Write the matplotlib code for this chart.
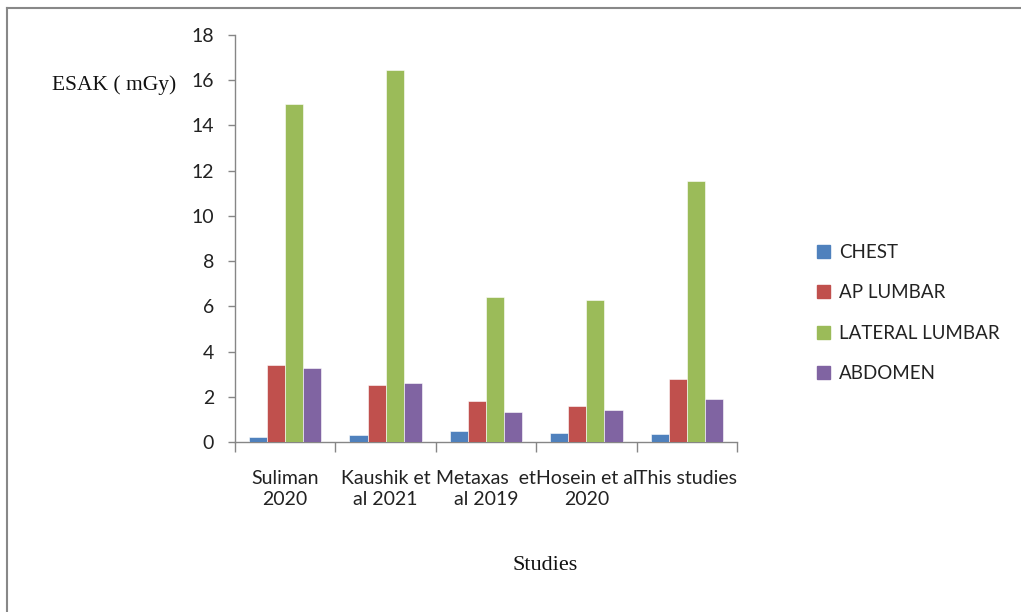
import matplotlib
matplotlib.use("Agg")
import matplotlib.pyplot as plt
import numpy as np
from matplotlib.patches import Rectangle
from matplotlib.lines import Line2D

categories = ["Suliman\n2020", "Kaushik et\nal 2021", "Metaxas  et\nal 2019", "Hosein et al\n2020", "This studies"]
series_names = ["CHEST", "AP LUMBAR", "LATERAL LUMBAR", "ABDOMEN"]
chest = [0.22, 0.30, 0.49, 0.40, 0.34]
ap_lumbar = [3.39, 2.51, 1.83, 1.59, 2.79]
lateral_lumbar = [14.93, 16.47, 6.40, 6.30, 11.56]
abdomen = [3.29, 2.61, 1.31, 1.42, 1.92]
colors = ["#4F81BD", "#C0504D", "#9BBB59", "#8064A2"]
yticks = [0, 2, 4, 6, 8, 10, 12, 14, 16, 18]

font_sans = ["Lato", "DejaVu Sans"]
font_serif = ["Liberation Serif", "DejaVu Serif"]

fig = plt.figure(figsize=(10.21, 6.12), dpi=100)
ax = fig.add_axes([235/1021, 1-442/612, (737-235)/1021, (442-35)/612])

x = np.arange(len(categories))
w = 0.18
data = [chest, ap_lumbar, lateral_lumbar, abdomen]
for i, (vals, c, name) in enumerate(zip(data, colors, series_names)):
    ax.bar(x + (i - 1.5) * w, vals, width=w, color=c, edgecolor="white", linewidth=0.4, label=name, zorder=3)

ax.set_xlim(-0.5, len(categories) - 0.5)
ax.set_ylim(0, 18)
ax.set_yticks(yticks)
ax.set_yticklabels([str(v) for v in yticks], fontsize=14, family=font_sans, color="#222222")
ax.set_xticks(np.arange(-0.5, len(categories), 1.0))
ax.set_xticklabels([])
ax.set_xticks(x, minor=True)
ax.set_xticklabels(categories, minor=True, fontsize=14, family=font_sans, color="#222222", linespacing=1.3)
ax.tick_params(axis="x", which="minor", length=0, pad=20)
ax.tick_params(axis="x", which="major", length=7, direction="out", color="#868686", width=1)
ax.tick_params(axis="y", length=5, direction="out", color="#868686", width=1, pad=10)

for s in ["top", "right"]:
    ax.spines[s].set_visible(False)
for s in ["left", "bottom"]:
    ax.spines[s].set_color("#868686")
    ax.spines[s].set_linewidth(1)

fig.text(52/1021, 1-85/612, "ESAK ( mGy)", family=font_serif, fontsize=15.5, va="center", ha="left", color="#111111")
fig.text(545/1021, 1-565/612, "Studies", family=font_serif, fontsize=16, va="center", ha="center", color="#111111")

handles = [Rectangle((0, 0), 1, 1, color=c) for c in colors]
leg = fig.legend(handles, series_names, loc="upper left", bbox_to_anchor=(800/1021, 1-227/612),
                 frameon=False, prop={"family": font_sans, "size": 13.5},
                 handlelength=0.7, handleheight=0.7, handletextpad=0.5, labelspacing=1.25)
for t in leg.get_texts():
    t.set_color("#222222")

# outer frame (left and top edges)
fig.add_artist(Line2D([7/1021, 7/1021], [0, 1-8/612], transform=fig.transFigure, color="#888888", lw=1.5))
fig.add_artist(Line2D([7/1021, 1], [1-8/612, 1-8/612], transform=fig.transFigure, color="#888888", lw=1.5))

fig.savefig("out.png", dpi=100)
